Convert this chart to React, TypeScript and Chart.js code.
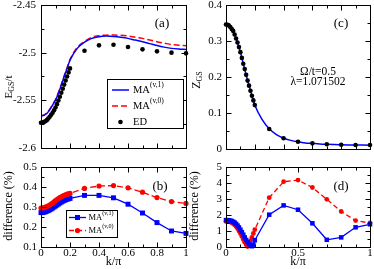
import React, { useEffect, useRef } from 'react';
import { Chart, registerables } from 'chart.js';
Chart.register(...registerables);

const SERIF = '"Liberation Serif", "DejaVu Serif", serif';

// ---------- data ----------
const kDense = [0, 0.01, 0.02, 0.03, 0.04, 0.05, 0.06, 0.07, 0.08, 0.09, 0.1, 0.11, 0.12, 0.13, 0.14, 0.15, 0.16, 0.17, 0.18, 0.19, 0.2];
const kSparse = [0.3, 0.4, 0.5, 0.6, 0.7, 0.8, 0.9, 1];
const kLine = [0, 0.02, 0.04, 0.06, 0.08, 0.1, 0.12, 0.14, 0.16, 0.18, 0.2, 0.25, 0.3, 0.35, 0.4, 0.45, 0.5, 0.55, 0.6, 0.65, 0.7, 0.75, 0.8, 0.85, 0.9, 0.95, 1];

// panel (a): E_GS/t
const aMA1 = [-2.5666, -2.5658, -2.5638, -2.56, -2.555, -2.5498, -2.5425, -2.534, -2.525, -2.5165, -2.508, -2.4955, -2.489, -2.485, -2.4832, -2.4826, -2.483, -2.4838, -2.485, -2.4868, -2.4885, -2.4905, -2.4925, -2.4942, -2.4955, -2.4962, -2.4966];
const aMA0 = [-2.566, -2.5652, -2.5632, -2.5594, -2.5543, -2.5492, -2.5418, -2.5333, -2.5243, -2.5157, -2.5072, -2.4945, -2.4883, -2.4838, -2.4822, -2.4816, -2.4815, -2.4818, -2.4825, -2.4838, -2.485, -2.4868, -2.4885, -2.49, -2.4915, -2.4922, -2.4928];
const aEDDense = [-2.5735, -2.5733, -2.5728, -2.572, -2.5708, -2.569, -2.5672, -2.5652, -2.563, -2.5605, -2.5575, -2.554, -2.5502, -2.5462, -2.542, -2.5378, -2.5335, -2.5292, -2.525, -2.5207, -2.5165];
const aEDSparse = [-2.498, -2.4923, -2.4917, -2.494, -2.4965, -2.4986, -2.5, -2.5007];

// panel (b): difference (%)
const bMA1Dense = [0.272, 0.272, 0.274, 0.276, 0.279, 0.282, 0.286, 0.29, 0.295, 0.3, 0.305, 0.31, 0.315, 0.32, 0.325, 0.329, 0.333, 0.336, 0.339, 0.341, 0.343];
const bMA1Sparse = [0.358, 0.358, 0.346, 0.314, 0.27, 0.222, 0.18, 0.168];
const bMA0Dense = [0.295, 0.295, 0.297, 0.299, 0.302, 0.306, 0.31, 0.315, 0.32, 0.326, 0.332, 0.337, 0.342, 0.347, 0.351, 0.355, 0.358, 0.361, 0.364, 0.366, 0.368];
const bMA0Sparse = [0.393, 0.405, 0.407, 0.396, 0.374, 0.347, 0.327, 0.318];

// panel (c): Z_GS
const cMA1 = [0.346, 0.343, 0.333, 0.318, 0.296, 0.269, 0.237, 0.206, 0.176, 0.148, 0.122, 0.082, 0.056, 0.04, 0.03, 0.024, 0.02, 0.017, 0.0155, 0.014, 0.013, 0.0122, 0.0117, 0.0113, 0.011, 0.0108, 0.0106];
const cEDDense = [0.346, 0.345, 0.343, 0.339, 0.333, 0.328, 0.318, 0.307, 0.296, 0.283, 0.269, 0.253, 0.237, 0.222, 0.206, 0.19, 0.176, 0.162, 0.148, 0.135, 0.122];
const cEDSparse = [0.0555, 0.0297, 0.0203, 0.0157, 0.013, 0.012, 0.011, 0.011];

// panel (d): difference (%)
const dMA1Dense = [1.68, 1.68, 1.67, 1.65, 1.62, 1.58, 1.52, 1.44, 1.34, 1.22, 1.08, 0.93, 0.77, 0.6, 0.44, 0.3, 0.18, 0.08, 0.05, 0.15, 0.42];
const dMA1Sparse = [2.02, 2.6, 2.33, 1.48, 0.45, 0.6, 1.23, 1.42];
const dMA0Dense = [1.6, 1.6, 1.59, 1.56, 1.52, 1.46, 1.38, 1.28, 1.15, 1.0, 0.84, 0.66, 0.47, 0.3, 0.14, 0.03, 0.2, 0.4, 0.6, 0.85, 1.08];
const dMA0Sparse = [3.08, 4.08, 4.18, 3.72, 2.98, 2.22, 1.65, 1.5];

// ticks
const xTicksAB = [0, 0.2, 0.4, 0.6, 0.8, 1];
const xMinorAB = [0.1, 0.3, 0.5, 0.7, 0.9];
const xTicksCD = [0, 0.5, 1];
const xMinorCD = [0.1, 0.2, 0.3, 0.4, 0.6, 0.7, 0.8, 0.9];
const xTicksC = [0, 0.2, 0.4, 0.6, 0.8, 1];
const yTicksA = [-2.6, -2.55, -2.5, -2.45];
const yMinorA = [-2.575, -2.525, -2.475];
const yTicksB = [0.1, 0.2, 0.3, 0.4, 0.5];
const yMinorB = [0.15, 0.25, 0.35, 0.45];
const yTicksC = [0, 0.1, 0.2, 0.3, 0.4];
const yMinorC = [0.05, 0.15, 0.25, 0.35];
const yTicksD = [0, 1, 2, 3, 4, 5];
const yMinorD = [0.5, 1.5, 2.5, 3.5, 4.5];

const pts = (xs: number[], ys: number[]) => xs.map((x, i) => ({ x, y: ys[i] }));

type Part = { t: string; size: number; dy: number };

function drawRich(ctx: CanvasRenderingContext2D, x: number, y: number, parts: Part[], align: 'left' | 'center', rotate = false) {
  ctx.save();
  ctx.translate(x, y);
  if (rotate) ctx.rotate(-Math.PI / 2);
  let w = 0;
  for (const p of parts) {
    ctx.font = `${p.size}px ${SERIF}`;
    w += ctx.measureText(p.t).width;
  }
  let cx = align === 'center' ? -w / 2 : 0;
  ctx.textBaseline = 'middle';
  ctx.textAlign = 'left';
  ctx.fillStyle = '#000';
  for (const p of parts) {
    ctx.font = `${p.size}px ${SERIF}`;
    ctx.fillText(p.t, cx, p.dy);
    cx += ctx.measureText(p.t).width;
  }
  ctx.restore();
}

type TextItem = { x: number; y: number; parts: Part[]; align: 'left' | 'center'; rotate?: boolean };
type LegendItem = { y: number; x1: number; x2: number; color: string; dash: number[]; lw: number; marker?: 'circle' | 'rect' | null; mr?: number; tx: number; parts: Part[] };
type Deco = {
  xMajor: number[]; xMinor: number[]; yMajor: number[]; yMinor: number[];
  texts: TextItem[];
  legend?: { box: [number, number, number, number]; items: LegendItem[] };
};

function decoPlugin(d: Deco) {
  return {
    id: 'deco',
    afterDraw(chart: any) {
      const { ctx, chartArea: a, scales } = chart;
      const L = Math.round(a.left) + 0.5, R = Math.round(a.right) + 0.5, T = Math.round(a.top) + 0.5, B = Math.round(a.bottom) + 0.5;
      ctx.save();
      ctx.strokeStyle = '#000';
      ctx.lineWidth = 1;
      ctx.setLineDash([]);
      ctx.strokeRect(L, T, R - L, B - T);
      const tickX = (vals: number[], len: number) => {
        for (const v of vals) {
          const px = Math.round(scales.x.getPixelForValue(v)) + 0.5;
          ctx.beginPath();
          ctx.moveTo(px, B); ctx.lineTo(px, B - len);
          ctx.moveTo(px, T); ctx.lineTo(px, T + len);
          ctx.stroke();
        }
      };
      const tickY = (vals: number[], len: number) => {
        for (const v of vals) {
          const py = Math.round(scales.y.getPixelForValue(v)) + 0.5;
          ctx.beginPath();
          ctx.moveTo(L, py); ctx.lineTo(L + len, py);
          ctx.moveTo(R, py); ctx.lineTo(R - len, py);
          ctx.stroke();
        }
      };
      tickX(d.xMajor, 5); tickX(d.xMinor, 3);
      tickY(d.yMajor, 5); tickY(d.yMinor, 3);

      if (d.legend) {
        const [bx, by, bw, bh] = d.legend.box;
        ctx.fillStyle = '#fff';
        ctx.fillRect(bx, by, bw, bh);
        ctx.strokeStyle = '#000';
        ctx.strokeRect(bx + 0.5, by + 0.5, bw, bh);
        for (const it of d.legend.items) {
          if (it.x2 > it.x1) {
            ctx.strokeStyle = it.color;
            ctx.lineWidth = it.lw;
            ctx.setLineDash(it.dash);
            ctx.beginPath();
            ctx.moveTo(it.x1, it.y); ctx.lineTo(it.x2, it.y);
            ctx.stroke();
            ctx.setLineDash([]);
          }
          if (it.marker) {
            const mx = (it.x1 + it.x2) / 2;
            const r = it.mr || 2.5;
            ctx.fillStyle = it.color;
            ctx.beginPath();
            if (it.marker === 'circle') ctx.arc(mx, it.y, r, 0, Math.PI * 2);
            else ctx.rect(mx - r, it.y - r, 2 * r, 2 * r);
            ctx.fill();
          }
          drawRich(ctx, it.tx, it.y, it.parts, 'left');
        }
      }
      for (const t of d.texts) drawRich(ctx, t.x, t.y, t.parts, t.align, !!t.rotate);
      ctx.restore();
    },
  };
}

type Panel = {
  padding: { left: number; top: number; right: number; bottom: number };
  xMin: number; xMax: number; yMin: number; yMax: number;
  xTicks: number[]; yTicks: number[];
  xShow: boolean; xHeight: number; yPad: number;
  datasets: any[];
  deco: Deco;
};

function makeConfig(p: Panel): any {
  const font = { family: SERIF, size: 11 };
  return {
    type: 'scatter',
    data: { datasets: p.datasets },
    options: {
      animation: false,
      responsive: false,
      maintainAspectRatio: false,
      devicePixelRatio: 1,
      events: [],
      layout: { padding: p.padding },
      plugins: { legend: { display: false }, tooltip: { enabled: false }, title: { display: false } },
      scales: {
        x: {
          type: 'linear',
          display: p.xShow,
          min: p.xMin,
          max: p.xMax,
          grid: { display: false, drawTicks: false },
          border: { display: false },
          ticks: { font, color: '#000', padding: 0, maxRotation: 0, autoSkip: false, callback: (v: number) => String(v) },
          afterBuildTicks: (s: any) => { s.ticks = p.xTicks.map((v) => ({ value: v })); },
          afterFit: (s: any) => { s.height = p.xHeight; s.paddingLeft = 0; s.paddingRight = 0; s.paddingTop = 0; s.paddingBottom = 0; },
          title: { display: p.xShow, text: 'k/π', font: { family: SERIF, size: 12 }, color: '#000', padding: 0 },
        },
        y: {
          type: 'linear',
          min: p.yMin,
          max: p.yMax,
          grid: { display: false, drawTicks: false },
          border: { display: false },
          ticks: { font, color: '#000', padding: p.yPad, autoSkip: false, callback: (v: number) => String(v) },
          afterBuildTicks: (s: any) => { s.ticks = p.yTicks.map((v) => ({ value: v })); },
          afterFit: (s: any) => { s.width = 41; s.paddingLeft = 0; s.paddingRight = 0; s.paddingTop = 0; s.paddingBottom = 0; },
        },
      },
    },
    plugins: [decoPlugin(p.deco)],
  };
}

const BLUE = '#0000ff';
const RED = '#ff0000';
const kAll = kDense.concat(kSparse);

const MA1 = (sz: number): Part[] => [{ t: 'MA', size: sz, dy: 0 }, { t: '(v,1)', size: sz * 0.72, dy: -sz * 0.45 }];
const MA0 = (sz: number): Part[] => [{ t: 'MA', size: sz, dy: 0 }, { t: '(v,0)', size: sz * 0.72, dy: -sz * 0.45 }];
const diffTitle: Part[] = [{ t: 'difference (%)', size: 12, dy: 0 }];

const panels: Panel[] = [
  {
    padding: { left: 0, top: 5, right: 188, bottom: 121 },
    xMin: 0, xMax: 1, yMin: -2.6, yMax: -2.45,
    xTicks: xTicksAB, yTicks: yTicksA, xShow: false, xHeight: 0, yPad: 5,
    datasets: [
      { data: pts(kAll, aEDDense.concat(aEDSparse)), showLine: false, pointRadius: 2.3, pointBackgroundColor: '#000', pointBorderWidth: 0, clip: false },
      { data: pts(kLine, aMA1), showLine: true, borderColor: BLUE, borderWidth: 1.5, pointRadius: 0, cubicInterpolationMode: 'monotone' },
      { data: pts(kLine, aMA0), showLine: true, borderColor: RED, borderWidth: 1.5, borderDash: [6, 3], pointRadius: 0, cubicInterpolationMode: 'monotone' },
    ],
    deco: {
      xMajor: xTicksAB, xMinor: xMinorAB, yMajor: yTicksA, yMinor: yMinorA,
      texts: [
        { x: 162, y: 24, parts: [{ t: '(a)', size: 13, dy: 0 }], align: 'center' },
        { x: 9, y: 87, parts: [{ t: 'E', size: 11, dy: 0 }, { t: 'GS', size: 8, dy: 3 }, { t: '/t', size: 11, dy: 0 }], align: 'center', rotate: true },
      ],
      legend: {
        box: [107, 79, 76, 49],
        items: [
          { y: 90, x1: 112, x2: 129, color: BLUE, dash: [], lw: 1.5, tx: 133, parts: MA1(10.5) },
          { y: 106, x1: 112, x2: 129, color: RED, dash: [6, 3], lw: 1.5, tx: 133, parts: MA0(10.5) },
          { y: 122, x1: 120.5, x2: 120.5, color: '#000', dash: [], lw: 0, marker: 'circle', mr: 2.3, tx: 133, parts: [{ t: 'ED', size: 10.5, dy: 0 }] },
        ],
      },
    },
  },
  {
    padding: { left: 0, top: 167, right: 188, bottom: 0 },
    xMin: 0, xMax: 1, yMin: 0.1, yMax: 0.5,
    xTicks: xTicksAB, yTicks: yTicksB, xShow: true, xHeight: 22, yPad: 4,
    datasets: [
      { data: pts(kAll, bMA0Dense.concat(bMA0Sparse)), showLine: true, borderColor: RED, borderWidth: 1.3, borderDash: [6, 3], pointStyle: 'circle', pointRadius: 2.6, pointBackgroundColor: RED, pointBorderWidth: 0, clip: false },
      { data: pts(kAll, bMA1Dense.concat(bMA1Sparse)), showLine: true, borderColor: BLUE, borderWidth: 1.3, pointStyle: 'rect', pointRadius: 3.5, pointBackgroundColor: BLUE, pointBorderWidth: 0, clip: false },
    ],
    deco: {
      xMajor: xTicksAB, xMinor: xMinorAB, yMajor: yTicksB, yMinor: yMinorB,
      texts: [
        { x: 160, y: 187, parts: [{ t: '(b)', size: 13, dy: 0 }], align: 'center' },
        { x: 9, y: 206, parts: diffTitle, align: 'center', rotate: true },
      ],
      legend: {
        box: [66, 210, 51, 27],
        items: [
          { y: 217.5, x1: 69, x2: 86, color: BLUE, dash: [], lw: 1.3, marker: 'rect', mr: 2.5, tx: 88.5, parts: MA1(8.5) },
          { y: 230.5, x1: 69, x2: 86, color: RED, dash: [5, 3], lw: 1.3, marker: 'circle', mr: 2.6, tx: 88.5, parts: MA0(8.5) },
        ],
      },
    },
  },
  {
    padding: { left: 185, top: 5, right: 4, bottom: 120 },
    xMin: 0, xMax: 1, yMin: 0, yMax: 0.4,
    xTicks: xTicksC, yTicks: yTicksC, xShow: false, xHeight: 0, yPad: 4,
    datasets: [
      { data: pts(kAll, cEDDense.concat(cEDSparse)), showLine: false, pointRadius: 2.3, pointBackgroundColor: '#000', pointBorderWidth: 0, clip: false },
      { data: pts(kLine, cMA1), showLine: true, borderColor: BLUE, borderWidth: 1.5, pointRadius: 0, cubicInterpolationMode: 'monotone' },
    ],
    deco: {
      xMajor: xTicksC, xMinor: xMinorAB, yMajor: yTicksC, yMinor: yMinorC,
      texts: [
        { x: 341, y: 24, parts: [{ t: '(c)', size: 13, dy: 0 }], align: 'center' },
        { x: 318, y: 71.5, parts: [{ t: 'Ω/t=0.5', size: 11.5, dy: 0 }], align: 'center' },
        { x: 318, y: 82, parts: [{ t: 'λ=1.071502', size: 11.5, dy: 0 }], align: 'center' },
        { x: 197, y: 80, parts: [{ t: 'Z', size: 12, dy: 0 }, { t: 'GS', size: 8, dy: 3 }], align: 'center', rotate: true },
      ],
    },
  },
  {
    padding: { left: 185, top: 167, right: 4, bottom: 0 },
    xMin: 0, xMax: 1, yMin: 0, yMax: 5,
    xTicks: xTicksCD, yTicks: yTicksD, xShow: true, xHeight: 22, yPad: 4,
    datasets: [
      { data: pts(kAll, dMA1Dense.concat(dMA1Sparse)), showLine: true, borderColor: BLUE, borderWidth: 1.3, pointStyle: 'rect', pointRadius: 3.2, pointBackgroundColor: BLUE, pointBorderWidth: 0, clip: false },
      { data: pts(kAll, dMA0Dense.concat(dMA0Sparse)), showLine: true, borderColor: RED, borderWidth: 1.3, borderDash: [5, 3], pointStyle: 'circle', pointRadius: 2.4, pointBackgroundColor: RED, pointBorderWidth: 0, clip: false },
    ],
    deco: {
      xMajor: xTicksCD, xMinor: xMinorCD, yMajor: yTicksD, yMinor: yMinorD,
      texts: [
        { x: 341, y: 187, parts: [{ t: '(d)', size: 13, dy: 0 }], align: 'center' },
        { x: 195, y: 206, parts: diffTitle, align: 'center', rotate: true },
      ],
    },
  },
];

export default function App() {
  const r0 = useRef<HTMLCanvasElement>(null);
  const r1 = useRef<HTMLCanvasElement>(null);
  const r2 = useRef<HTMLCanvasElement>(null);
  const r3 = useRef<HTMLCanvasElement>(null);
  const refs = [r0, r1, r2, r3];
  useEffect(() => {
    const charts = panels.map((p, i) => new Chart(refs[i].current as HTMLCanvasElement, makeConfig(p)));
    return () => charts.forEach((c) => c.destroy());
  }, []);
  return (
    <div style={{ position: 'fixed', left: 0, top: 0, width: 374, height: 269, background: '#fff' }}>
      {refs.map((r, i) => (
        <canvas key={i} ref={r} width={374} height={269} style={{ position: 'absolute', left: 0, top: 0, width: 374, height: 269 }} />
      ))}
    </div>
  );
}
